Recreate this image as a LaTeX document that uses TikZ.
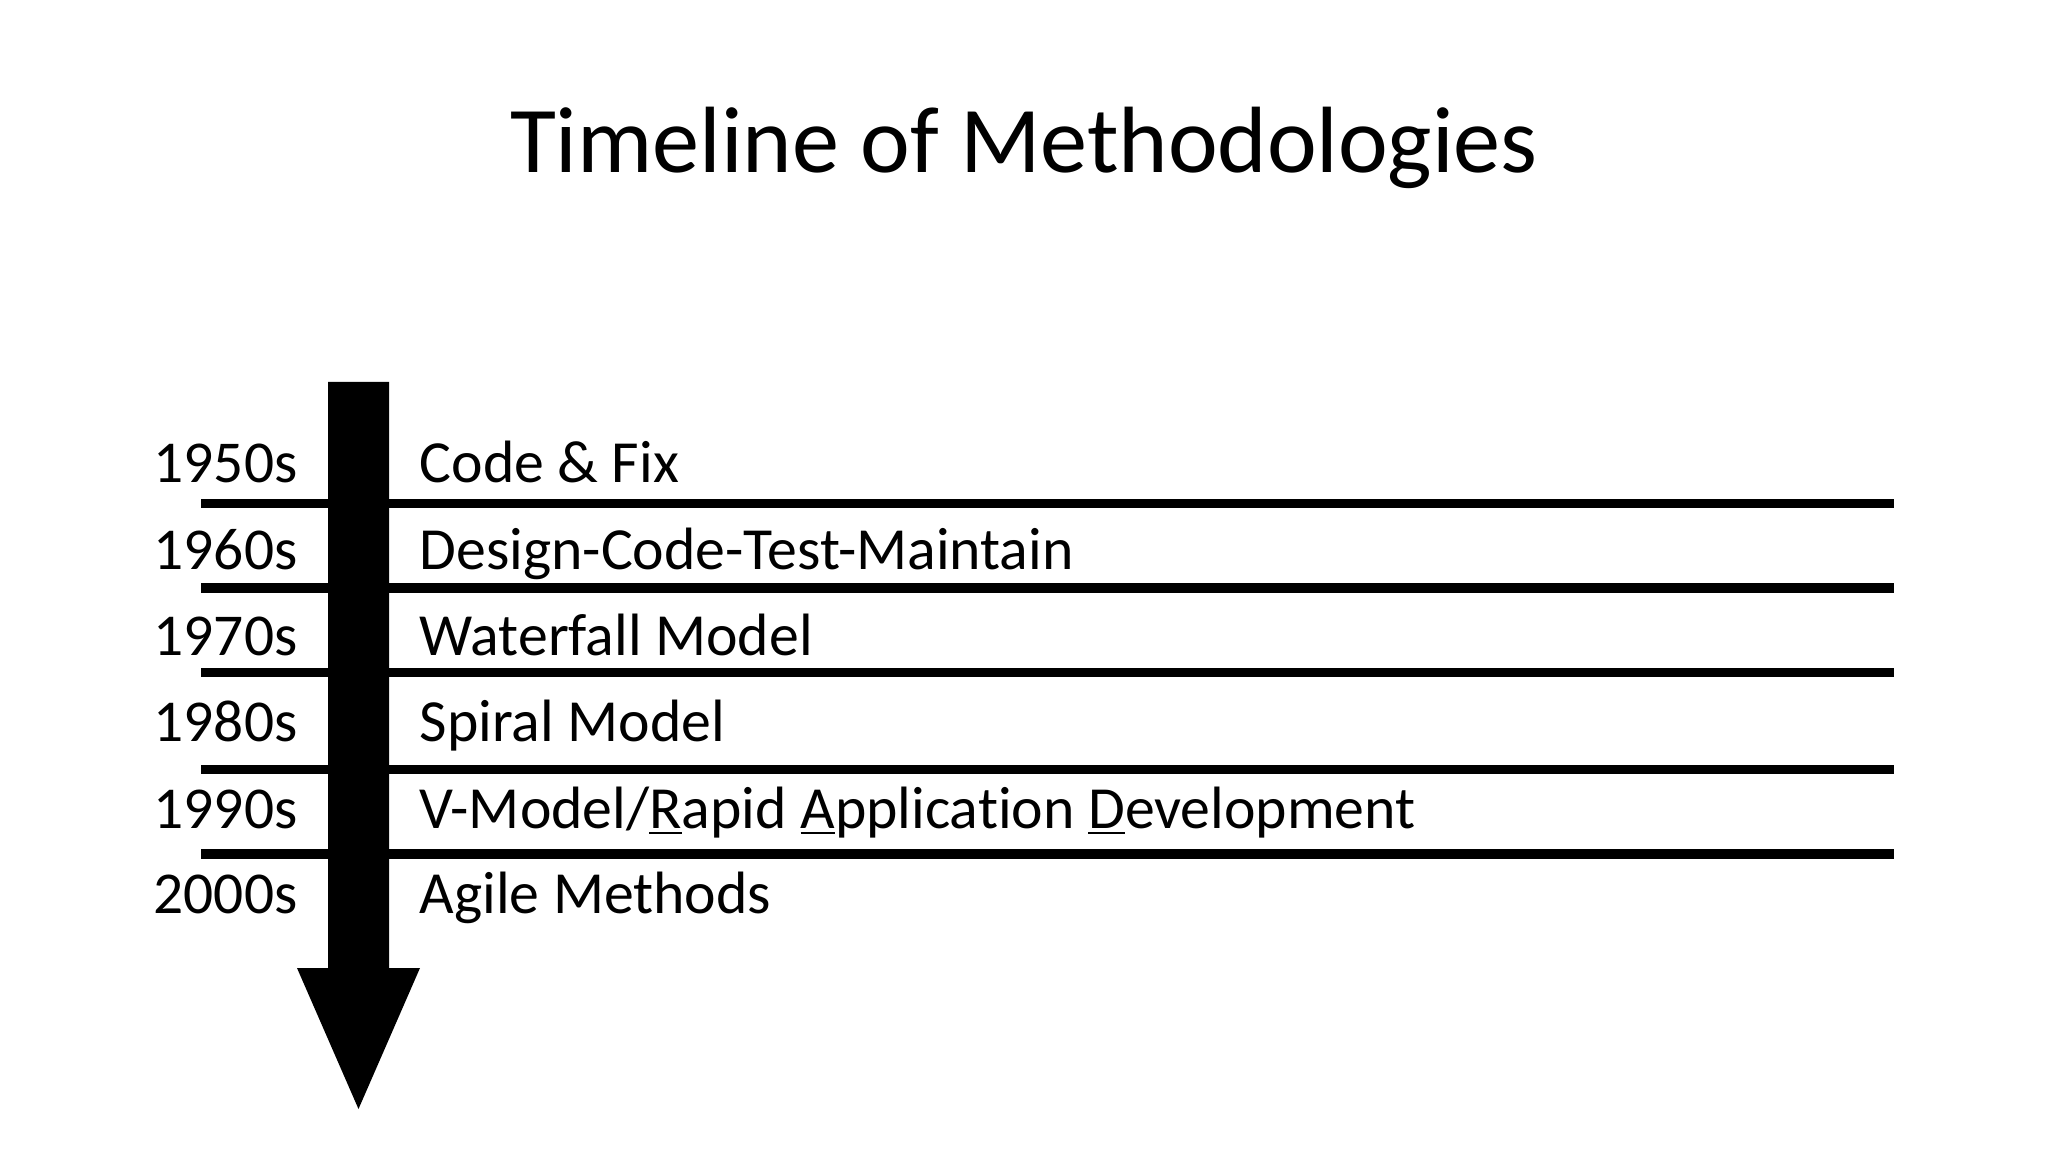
\documentclass[tikz,border=0pt]{standalone}
\usepackage{fontspec}
\setmainfont{Carlito}[Ligatures=CommonOff]
\usetikzlibrary{positioning}

\tikzset{
    title/.style={anchor=base, inner sep=0pt, font=\fontsize{26.8}{32}\selectfont},
    decade/.style={anchor=base west, inner sep=0pt, font=\fontsize{16.9}{20}\selectfont},
    method/.style={anchor=base west, inner sep=0pt, font=\fontsize{17}{20}\selectfont},
    divider/.style={line width=2.7pt}
}

\begin{document}
\begin{tikzpicture}
    \useasboundingbox[fill=white] (0,0) rectangle (20.48,-11.52);

    % Title
    \node[title] (title) at (10.24,-1.73) {Timeline of Methodologies};

    % Time arrow
    \coordinate (shaftL) at (3.28,-3.82);
    \coordinate (shaftR) at (3.89,-3.82);
    \coordinate (tip) at (3.585,-11.09);
    \fill[black] (shaftL) -- (shaftR) -- (3.89,-9.68) -- (4.20,-9.68) -- (tip)
        -- (2.97,-9.68) -- (3.28,-9.68) -- cycle;

    % Decades
    \node[decade] (d1950) at (1.53,-4.83) {1950s};
    \node[decade] (d1960) at (1.53,-5.70) {1960s};
    \node[decade] (d1970) at (1.53,-6.56) {1970s};
    \node[decade] (d1980) at (1.53,-7.42) {1980s};
    \node[decade] (d1990) at (1.53,-8.28) {1990s};
    \node[decade] (d2000) at (1.53,-9.13) {2000s};

    % Methodologies
    \node[method] (codefix) at (4.19,-4.83) {Code \& Fix};
    \node[method] (dctm) at (4.19,-5.70) {Design-Code-Test-Maintain};
    \node[method] (waterfall) at (4.19,-6.56) {Waterfall Model};
    \node[method] (spiral) at (4.19,-7.42) {Spiral Model};
    \node[method] (vmodel) at (4.19,-8.28) {V-Model/\underline{R}apid \underline{A}pplication \underline{D}evelopment};
    \node[method] (agile) at (4.19,-9.13) {Agile Methods};

    % Dividers
    \coordinate (l1) at (2.01,-5.035); \coordinate (r1) at (18.94,-5.035);
    \coordinate (l2) at (2.01,-5.88);  \coordinate (r2) at (18.94,-5.88);
    \coordinate (l3) at (2.01,-6.725); \coordinate (r3) at (18.94,-6.725);
    \coordinate (l4) at (2.01,-7.695); \coordinate (r4) at (18.94,-7.695);
    \coordinate (l5) at (2.01,-8.54);  \coordinate (r5) at (18.94,-8.54);
    \draw[divider] (l1) -- (r1);
    \draw[divider] (l2) -- (r2);
    \draw[divider] (l3) -- (r3);
    \draw[divider] (l4) -- (r4);
    \draw[divider] (l5) -- (r5);
\end{tikzpicture}
\end{document}
